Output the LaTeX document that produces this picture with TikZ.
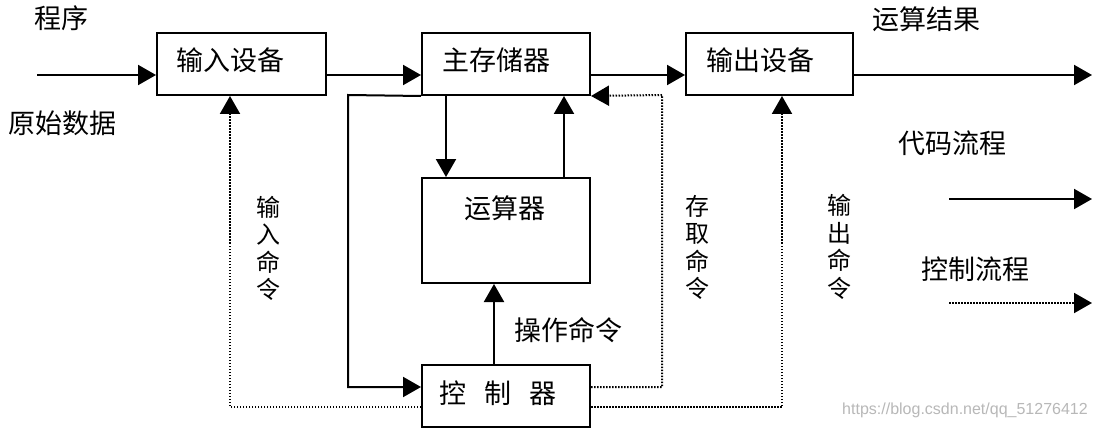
\documentclass[tikz,border=0pt]{standalone}
\usepackage{fontspec}
\newfontfamily\cjk{Noto Sans CJK SC}
\newfontfamily\wmfont{Liberation Sans}
\usetikzlibrary{arrows.meta}
\begin{document}
\begin{tikzpicture}[x=1pt,y=-1pt,
  box/.style={draw=black,line width=2pt,fill=none,inner sep=0pt},
  txt/.style={inner sep=0pt,font=\cjk\fontsize{27}{30}\selectfont},
  vtxt/.style={inner sep=0pt,align=center,font=\cjk\fontsize{24}{27.5}\selectfont},
  flow/.style={line width=2pt,-{Triangle[length=18pt,width=20pt]}},
  ctrl/.style={line width=2pt,dash pattern=on 1.5pt off 1.5pt,-{Triangle[length=18pt,width=20pt]}},
  wm/.style={inner sep=0pt,text=black!28,font=\wmfont\fontsize{16}{18}\selectfont}]
\useasboundingbox[fill=white] (0,0) rectangle (1096,428);

% boxes
\node[box,minimum width=169pt,minimum height=62pt] (in)  at (241.5,64) {};
\node[box,minimum width=168pt,minimum height=62pt] (mm)  at (506,64) {};
\node[box,minimum width=167pt,minimum height=62pt] (out) at (769.5,64) {};
\node[box,minimum width=168pt,minimum height=105pt] (alu) at (506,230.5) {};
\node[box,minimum width=168pt,minimum height=62pt] (ctl) at (506,396) {};

% box texts
\node[txt] (inT)  at (230.5,60) {输入设备};
\node[txt] (mmT)  at (496,60) {主存储器};
\node[txt] (outT) at (760,60) {输出设备};
\node[txt] (aluT) at (504.5,208) {运算器};
\node[txt] (ctlT) at (498,393) {控\hspace{18pt}制\hspace{18pt}器};

% other texts
\node[txt] (prog) at (61.5,18.5) {程序};
\node[txt] (raw)  at (63,123) {原始数据};
\node[txt] (res)  at (926,19.5) {运算结果};
\node[txt] (op)   at (568,330.5) {操作命令};
\node[vtxt] (inC)  at (268,248.5) {输\\入\\命\\令};
\node[vtxt] (stC)  at (697,247.5) {存\\取\\命\\令};
\node[vtxt] (outC) at (839,247) {输\\出\\命\\令};
\node[txt] (lgA) at (952.5,143) {代码流程};
\node[txt] (lgB) at (975.5,269.5) {控制流程};
\node[wm] (wmk) at (965,410) {https://blog.csdn.net/qq\_51276412};

% coordinates
\coordinate (src) at (37,75);
\coordinate (dst) at (1092,75);
\coordinate (xd) at (446,0);
\coordinate (xu) at (564,0);
\coordinate (xo) at (494,0);
\coordinate (lp1) at (348,95);
\coordinate (lp2) at (348,387);
\coordinate (ci1) at (230,407);
\coordinate (cs1) at (662,387);
\coordinate (cs2) at (662,95);
\coordinate (co1) at (782,407);
\coordinate (la1) at (949,199);
\coordinate (la2) at (1092,199);
\coordinate (lb1) at (949,303);
\coordinate (lb2) at (1092,303);

% data flow
\draw[flow] (src) -- (src -| in.west);
\draw[flow] (in.east |- src) -- (mm.west |- src);
\draw[flow] (mm.east |- src) -- (out.west |- src);
\draw[flow] (out.east |- src) -- (dst);
\draw[flow] (xd |- mm.south) -- (xd |- alu.north);
\draw[flow] (xu |- alu.north) -- (xu |- mm.south);
\draw[flow] (mm.south west) -- (lp1) -- (lp2) -- (lp2 -| ctl.west);
\draw[flow] (xo |- ctl.north) -- (xo |- alu.south);

% control flow
\draw[ctrl] (ctl.west |- ci1) -- (ci1) -- (ci1 |- in.south);
\draw[ctrl] (ctl.east |- cs1) -- (cs1) -- (cs2) -- (mm.south east);
\draw[ctrl] (ctl.east |- co1) -- (co1) -- (co1 |- out.south);

% legend
\draw[flow] (la1) -- (la2);
\draw[ctrl] (lb1) -- (lb2);
\end{tikzpicture}
\end{document}
